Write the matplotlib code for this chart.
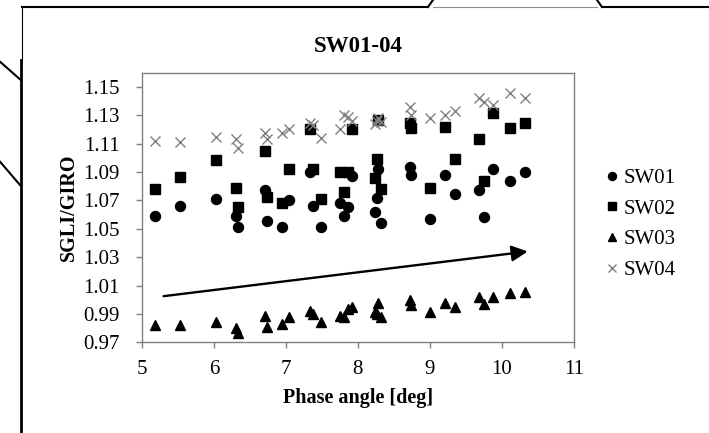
import matplotlib
matplotlib.use("Agg")
import matplotlib.pyplot as plt
from matplotlib.lines import Line2D

plt.rcParams['font.family'] = ['Liberation Serif', 'DejaVu Serif']

phase = [5.18, 5.53, 6.03, 6.31, 6.33, 6.71, 6.74, 6.94, 7.04, 7.34,
         7.38, 7.49, 7.75, 7.81, 7.86, 7.92, 8.24, 8.26, 8.28, 8.32,
         8.72, 8.74, 9.00, 9.21, 9.35, 9.69, 9.75, 9.88, 10.12, 10.33]

sw01 = [1.059, 1.066, 1.071, 1.059, 1.051, 1.077, 1.0556, 1.051, 1.070, 1.090,
        1.066, 1.0516, 1.068, 1.059, 1.065, 1.087, 1.062, 1.0716, 1.092, 1.0544,
        1.0935, 1.0876, 1.057, 1.088, 1.0747, 1.0775, 1.058, 1.092, 1.0838, 1.0897]

sw02 = [1.078, 1.0865, 1.0987, 1.079, 1.065, 1.105, 1.0724, 1.068, 1.092, 1.1206,
        1.092, 1.071, 1.090, 1.076, 1.090, 1.120, 1.086, 1.099, 1.127, 1.078,
        1.1245, 1.121, 1.079, 1.122, 1.099, 1.113, 1.084, 1.1316, 1.121, 1.1246]

sw03 = [0.982, 0.982, 0.9845, 0.980, 0.9768, 0.9886, 0.981, 0.983, 0.9876, 0.9923,
        0.990, 0.9845, 0.9886, 0.988, 0.9935, 0.9947, 0.9916, 0.990, 0.998, 0.988,
        0.9998, 0.9963, 0.9916, 0.998, 0.9947, 1.0017, 0.997, 1.0017, 1.0046, 1.0053]

sw04 = [1.1116, 1.111, 1.115, 1.113, 1.107, 1.1175, 1.113, 1.1175, 1.120, 1.1245,
        1.123, 1.114, 1.120, 1.130, 1.129, 1.126, 1.124, 1.126, 1.128, 1.125,
        1.136, 1.130, 1.128, 1.130, 1.133, 1.142, 1.139, 1.1375, 1.146, 1.142]

series_names = ['SW01', 'SW02', 'SW03', 'SW04']
x_ticks = [5, 6, 7, 8, 9, 10, 11]
y_ticks = [0.97, 0.99, 1.01, 1.03, 1.05, 1.07, 1.09, 1.11, 1.13, 1.15]
arrow_start = (5.3, 1.0025)
arrow_end = (10.36, 1.034)

W, H = 709, 433
fig = plt.figure(figsize=(W / 100, H / 100), dpi=100)
ax = fig.add_axes([142 / W, 1 - 342.3 / H, (573.7 - 142) / W, (342.3 - 72.7) / H])

ax.plot(phase, sw01, 'o', color='black', ms=7.2, ls='none', label=series_names[0])
ax.plot(phase, sw02, 's', color='black', ms=6.8, ls='none', label=series_names[1])
ax.plot(phase, sw03, '^', color='black', ms=7.2, ls='none', label=series_names[2])
ax.plot(phase, sw04, 'x', color='#808080', mec='#808080', ms=7.2, mew=1.0, ls='none',
        label=series_names[3])

ax.annotate('', xy=arrow_end, xytext=arrow_start,
            arrowprops=dict(arrowstyle='-|>', lw=1.7, color='black',
                            mutation_scale=24, shrinkA=0, shrinkB=0))

ax.set_xlim(5, 11)
ax.set_ylim(0.97, 1.16)
ax.set_xticks(x_ticks)
ax.set_xticklabels([str(v) for v in x_ticks])
ax.set_yticks(y_ticks)
ax.set_yticklabels(['%.2f' % v for v in y_ticks])
for s in ax.spines.values():
    s.set_color('#808080')
    s.set_linewidth(1.0)
ax.tick_params(axis='both', direction='out', length=4, width=1.0, color='#808080',
               labelsize=15, labelcolor='black')
ax.tick_params(axis='y', pad=12)
ax.tick_params(axis='x', pad=9)

ax.set_title('SW01-04', fontsize=16.5, fontweight='bold', pad=15)
ax.set_xlabel('Phase angle [deg]', fontsize=14.5, fontweight='bold', labelpad=6)
ax.set_ylabel('SGLI/GIRO', fontsize=14.5, fontweight='bold', labelpad=3)

leg = fig.legend(loc='upper left', bbox_to_anchor=(606 / W, 1 - 168.5 / H),
                 frameon=False, fontsize=15, handlelength=0.6, handletextpad=0.25,
                 labelspacing=0.53, markerscale=0.8, borderaxespad=0, borderpad=0)

# decorative frame lines from the original slide
def fl(xs, ys, lw=1.5, color='black'):
    fig.add_artist(Line2D([x / W for x in xs], [1 - y / H for y in ys],
                          transform=fig.transFigure, color=color, lw=lw))

fl([22, 428], [7, 7])
fl([428, 433], [7, 0])
fl([433, 597], [7, 7], lw=0.8, color='#909090')
fl([597, 602], [0, 7])
fl([602, 709], [7, 7])
fl([21.7, 21.7], [7, 60], lw=0.8)
fl([21, 21], [60, 433], lw=2.0)
fl([0, 20], [61.7, 79.3])
fl([0, 20], [161.7, 185])

fig.savefig('out.png', dpi=100)
